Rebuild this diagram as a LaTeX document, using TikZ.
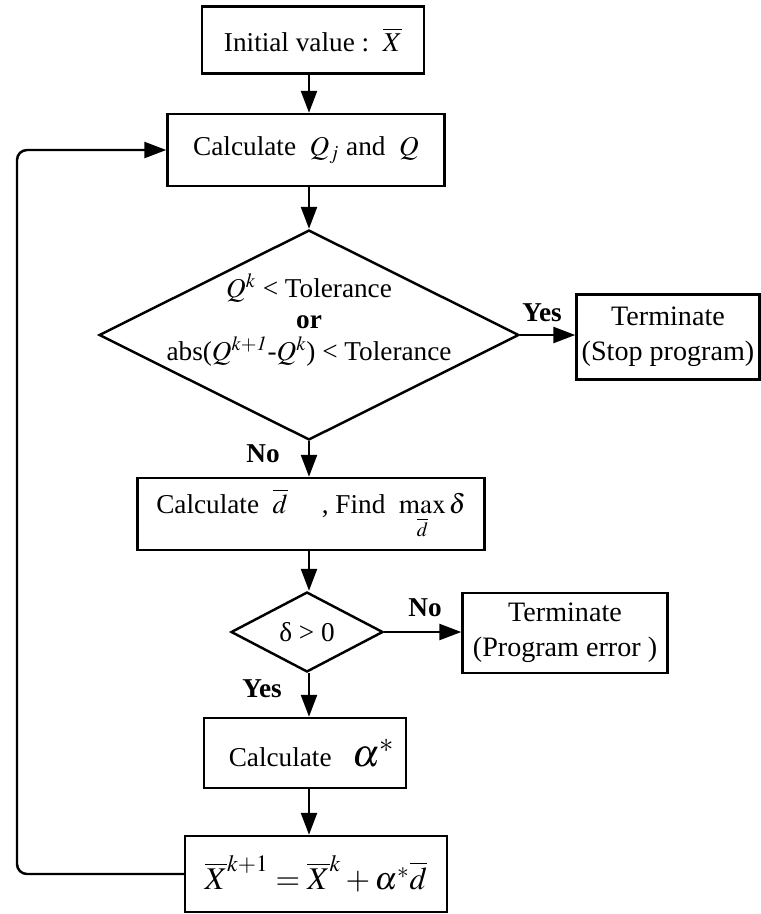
\documentclass[tikz,border=0pt]{standalone}
\usepackage{mathptmx}
\usepackage{fontspec}
\setmainfont{Liberation Serif}
\usetikzlibrary{arrows.meta,positioning,shapes.geometric}
\tikzset{>={Triangle[length=0.44cm,width=0.32cm]}}

\begin{document}
\begin{tikzpicture}[x=0.02cm,y=-0.02cm,line width=1.4pt,
    font=\fontsize{15.5}{18}\selectfont,
    procbox/.style={draw,rectangle,inner sep=0pt,align=center},
    endbox/.style={procbox,font=\fontsize{16}{20}\selectfont},
    decision/.style={draw,diamond,shape aspect=2,inner sep=-4pt,align=center},
    answer/.style={font=\fontsize{15.5}{18}\selectfont\bfseries}]

% pixel grid of the page, y pointing down
\useasboundingbox (0,0) rectangle (761,914);

\node[procbox,minimum width=4.44cm,minimum height=1.34cm] (init) at (313,40)
  {Initial value :\ \ $\overline{X}$};
\node[procbox,minimum width=5.54cm,minimum height=1.44cm] (calc) at (306,150)
  {Calculate\ \ $Q_j$ and\ \ $Q$};
\node[decision,minimum width=8.4cm,minimum height=4.2cm] (tol) at (309,335) {};
% the three lines sit a little above the middle of the diamond
\node[align=center,inner sep=0pt] (toltext) at (309,320)
  {$Q^k$ < Tolerance\\ \textbf{or}\\ abs($Q^{k+\mathit{1}}$-$Q^k$) < Tolerance};
\node[endbox,minimum width=3.66cm,minimum height=1.7cm] (stop) at (668,337)
  {Terminate\\(Stop program)};
\node[procbox,minimum width=6.94cm,minimum height=1.44cm] (dir) at (311,514)
  {Calculate\ \ $\overline{d}$\quad\ , Find\ \ $\max\limits_{\overline{d}}\delta$};
\node[decision,minimum width=3.04cm,minimum height=1.6cm] (pos) at (307,632)
  {δ > 0};
\node[endbox,minimum width=4.1cm,minimum height=1.6cm] (err) at (565,633)
  {Terminate\\(Program error )};
\node[procbox,minimum width=4.04cm,minimum height=1.4cm] (step) at (305,753)
  {\ \ Calculate\ \ \ {\fontsize{22}{24}\selectfont$\alpha^{*}$}};
\node[procbox,minimum width=5.24cm,minimum height=1.52cm] (upd) at (316,874)
  {\fontsize{18}{20}\selectfont
   $\overline{X}^{k+1}=\overline{X}^{k}+\alpha^{*}\overline{d}$};

\node[answer] (yes1) at (542,313) {Yes};
\node[answer] (no1) at (263,454) {No};
\node[answer] (no2) at (425,608) {No};
\node[answer] (yes2) at (262,689) {Yes};

% main column of arrows
\coordinate (axis) at (309,0);
\draw[->] (axis |- init.south) -- (axis |- calc.north);
\draw[->] (axis |- calc.south) -- (tol.north);
\draw[->] (tol.south) -- (axis |- dir.north);
\draw[->] (axis |- dir.south) -- (axis |- pos.north);
\draw[->] (axis |- pos.south) -- (axis |- step.north);
\draw[->] (axis |- step.south) -- (axis |- upd.north);

\draw[->] (tol.east) -- (stop.west |- tol.east);
\draw[->] (pos.east) -- (err.west |- pos.east);

\coordinate (back) at (17,0);
\draw[->,rounded corners=0.2cm] (upd.west) -| (back |- calc.west) -- (calc.west);
\end{tikzpicture}
\end{document}
